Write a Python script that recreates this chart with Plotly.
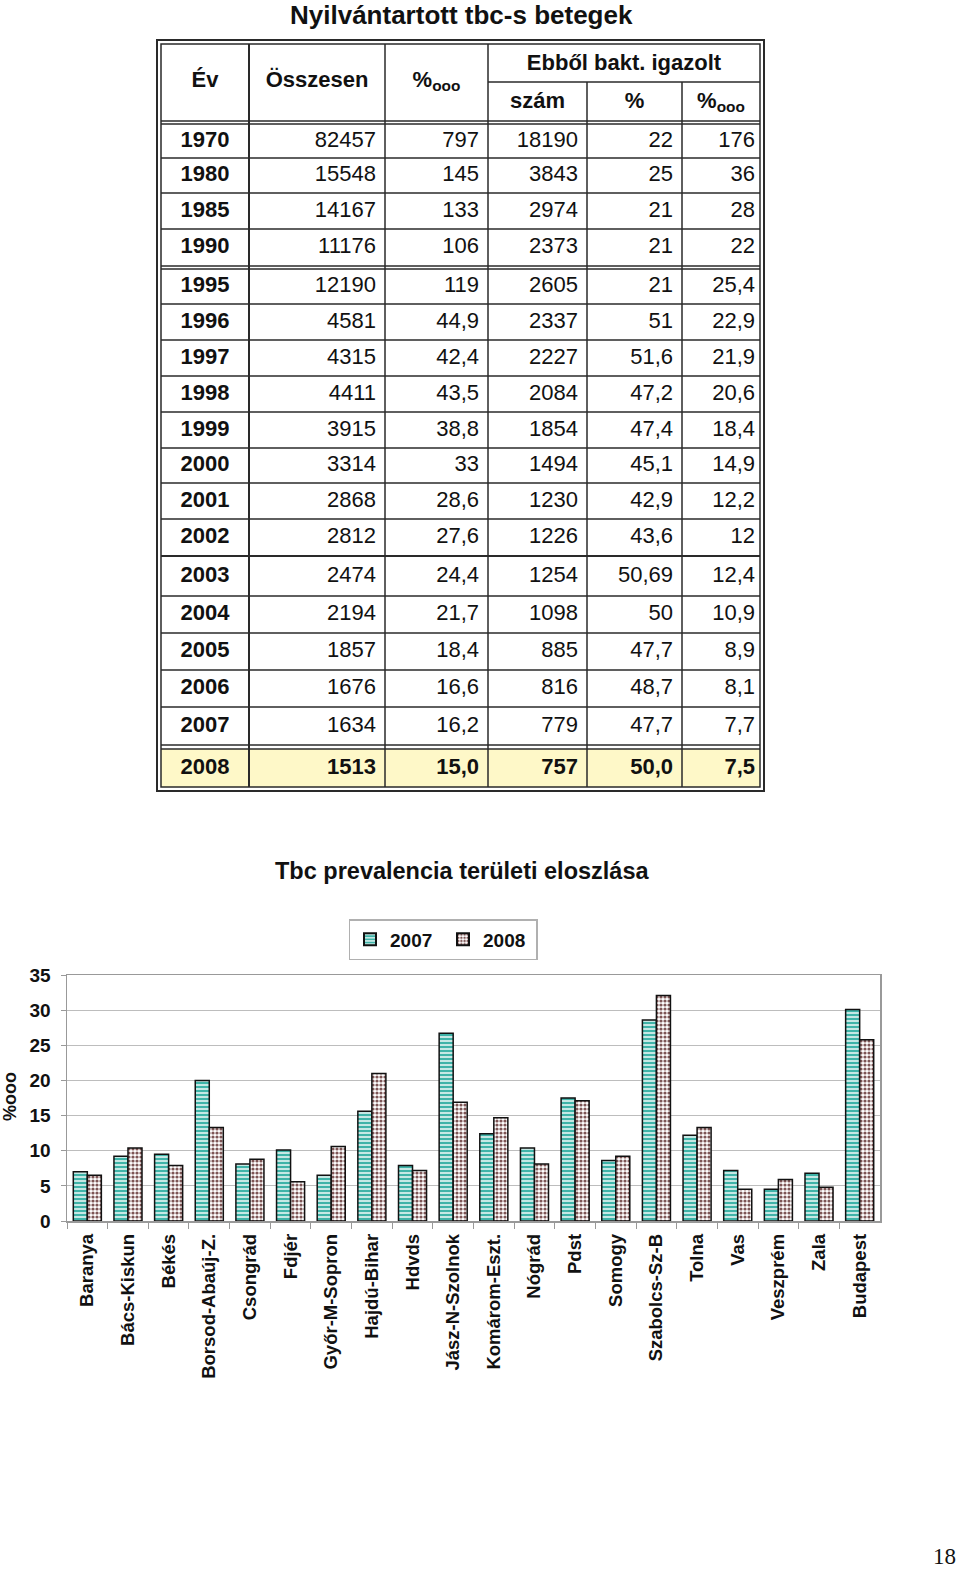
import plotly.graph_objects as go

# ---------------- data: table ----------------
years = [1970, 1980, 1985, 1990, 1995, 1996, 1997, 1998, 1999, 2000,
         2001, 2002, 2003, 2004, 2005, 2006, 2007, 2008]
osszesen = [82457, 15548, 14167, 11176, 12190, 4581, 4315, 4411, 3915, 3314,
            2868, 2812, 2474, 2194, 1857, 1676, 1634, 1513]
osszesen_rate = [797, 145, 133, 106, 119, 44.9, 42.4, 43.5, 38.8, 33,
                 28.6, 27.6, 24.4, 21.7, 18.4, 16.6, 16.2, 15.0]
bakt_szam = [18190, 3843, 2974, 2373, 2605, 2337, 2227, 2084, 1854, 1494,
             1230, 1226, 1254, 1098, 885, 816, 779, 757]
bakt_pct = [22, 25, 21, 21, 21, 51, 51.6, 47.2, 47.4, 45.1,
            42.9, 43.6, 50.69, 50, 47.7, 48.7, 47.7, 50.0]
bakt_rate = [176, 36, 28, 22, 25.4, 22.9, 21.9, 20.6, 18.4, 14.9,
             12.2, 12, 12.4, 10.9, 8.9, 8.1, 7.7, 7.5]
header_top = ["Év", "Összesen", "%<sub>ooo</sub>"]
header_group = "Ebből bakt. igazolt"
header_sub = ["szám", "%", "%<sub>ooo</sub>"]

# ---------------- data: bar chart ----------------
regions = ["Baranya", "Bács-Kiskun", "Békés", "Borsod-Abaúj-Z.", "Csongrád", "Fdjér",
           "Győr-M-Sopron", "Hajdú-Bihar", "Hdvds", "Jász-N-Szolnok", "Komárom-Eszt.",
           "Nógrád", "Pdst", "Somogy", "Szabolcs-Sz-B", "Tolna", "Vas", "Veszprém",
           "Zala", "Budapest"]
prev_2007 = [7.0, 9.2, 9.5, 20.0, 8.1, 10.1, 6.5, 15.6, 7.9, 26.7, 12.4,
             10.4, 17.5, 8.6, 28.6, 12.2, 7.2, 4.5, 6.8, 30.1]
prev_2008 = [6.5, 10.4, 7.9, 13.3, 8.8, 5.6, 10.6, 21.0, 7.2, 16.9, 14.7,
             8.1, 17.1, 9.2, 32.1, 13.3, 4.5, 5.9, 4.8, 25.8]
series_names = ["2007", "2008"]

W, H = 960, 1569
FONT = "Liberation Sans, Arial, sans-serif"


def fmt(v):
    return str(v).replace(".", ",")


def px_x(v):
    return v / W


def px_y(v):
    return (H - v) / H


fig = go.Figure()

# ---------------- bar chart ----------------
fig.add_trace(go.Bar(
    x=regions, y=prev_2007, name=series_names[0],
    marker=dict(color="#3FB3A8", line=dict(color="#111111", width=1.5),
                pattern=dict(shape="-", fgcolor="#FFFFFF", bgcolor="#3FB3A8",
                             size=4, solidity=0.35, fillmode="replace")),
    xaxis="x", yaxis="y", hoverinfo="skip"))
fig.add_trace(go.Bar(
    x=regions, y=prev_2008, name=series_names[1],
    marker=dict(color="#FFFFFF", line=dict(color="#111111", width=1.5),
                pattern=dict(shape=".", fgcolor="#7D5555", bgcolor="#FFFFFF",
                             size=4, solidity=0.5, fillmode="replace")),
    xaxis="x", yaxis="y", hoverinfo="skip"))

# ---------------- table (drawn on its own axes, page-pixel units) ----------------
col_edges = [161, 249, 385, 488, 587, 682, 760]
col_pad = [9, 9, 9, 9, 5]
rows = [(124, 158), (158, 193), (193, 229), (229, 266), (269, 304), (304, 340),
        (340, 376), (376, 412), (412, 448), (448, 483), (483, 519), (519, 556),
        (556, 596), (596, 633), (633, 670), (670, 707), (707, 745), (749, 787)]
row_centers = [(a + b) / 2 for a, b in rows]
last = len(years) - 1

shapes = []
line_c = "#2a2a2a"
shapes.append(dict(type="rect", xref="x2", yref="y2", x0=col_edges[0], x1=col_edges[-1],
                   y0=rows[last][0], y1=rows[last][1], fillcolor="#FEF8C8",
                   line=dict(width=0), layer="below"))
shapes.append(dict(type="rect", xref="x2", yref="y2", x0=157, x1=764, y0=40, y1=791,
                   line=dict(color=line_c, width=2)))
shapes.append(dict(type="rect", xref="x2", yref="y2", x0=col_edges[0], x1=col_edges[-1],
                   y0=44, y1=787, line=dict(color=line_c, width=1.5)))
shapes.append(dict(type="line", xref="x2", yref="y2", x0=col_edges[3], x1=col_edges[-1],
                   y0=82, y1=82, line=dict(color=line_c, width=1.5)))
shapes.append(dict(type="line", xref="x2", yref="y2", x0=col_edges[0], x1=col_edges[-1],
                   y0=121, y1=121, line=dict(color=line_c, width=1.5)))
ys = sorted(set([r[0] for r in rows] + [r[1] for r in rows[:-1]]))
for yv in ys:
    shapes.append(dict(type="line", xref="x2", yref="y2", x0=col_edges[0], x1=col_edges[-1],
                       y0=yv, y1=yv,
                       line=dict(color=line_c, width=2.2 if yv == 556 else 1.5)))
for j, xv in enumerate(col_edges[1:-1], start=1):
    y_start = 82 if j >= 4 else 44
    shapes.append(dict(type="line", xref="x2", yref="y2", x0=xv, x1=xv,
                       y0=y_start, y1=787,
                       line=dict(color=line_c, width=2 if j == 1 else 1.5)))

TS = 22
hdr_font = dict(family=FONT, size=TS, color="#111111", weight="bold")
fig.add_trace(go.Scatter(
    x=[(col_edges[j] + col_edges[j + 1]) / 2 for j in range(3)],
    y=[81] * 3, text=header_top, mode="text", textfont=hdr_font,
    textposition="middle center", xaxis="x2", yaxis="y2",
    showlegend=False, hoverinfo="skip"))
fig.add_trace(go.Scatter(
    x=[(col_edges[3] + col_edges[6]) / 2], y=[64], text=[header_group], mode="text",
    textfont=hdr_font, textposition="middle center", xaxis="x2", yaxis="y2",
    showlegend=False, hoverinfo="skip"))
fig.add_trace(go.Scatter(
    x=[(col_edges[j] + col_edges[j + 1]) / 2 for j in range(3, 6)],
    y=[102] * 3, text=header_sub, mode="text", textfont=hdr_font,
    textposition="middle center", xaxis="x2", yaxis="y2",
    showlegend=False, hoverinfo="skip"))

fig.add_trace(go.Scatter(
    x=[(col_edges[0] + col_edges[1]) / 2] * len(years), y=row_centers,
    text=[f"<b>{y}</b>" for y in years], mode="text",
    textfont=dict(family=FONT, size=TS, color="#111111"),
    textposition="middle center", xaxis="x2", yaxis="y2",
    showlegend=False, hoverinfo="skip"))

for j, col in enumerate([osszesen, osszesen_rate, bakt_szam, bakt_pct, bakt_rate], start=1):
    txt = [(f"<b>{fmt(v)}</b>" if i == last else fmt(v)) for i, v in enumerate(col)]
    fig.add_trace(go.Scatter(
        x=[col_edges[j + 1] - col_pad[j - 1]] * len(col), y=row_centers, text=txt,
        mode="text", textfont=dict(family=FONT, size=TS, color="#111111"),
        textposition="middle left", xaxis="x2", yaxis="y2",
        showlegend=False, hoverinfo="skip"))

annotations = [
    dict(text="<b>Nyilvántartott tbc-s betegek</b>", x=px_x(461), y=px_y(15),
         xref="paper", yref="paper", showarrow=False, xanchor="center", yanchor="middle",
         font=dict(family=FONT, size=26, color="#111111")),
    dict(text="<b>Tbc prevalencia területi eloszlása</b>", x=px_x(462), y=px_y(871),
         xref="paper", yref="paper", showarrow=False, xanchor="center", yanchor="middle",
         font=dict(family=FONT, size=23.5, color="#111111")),
    dict(text="<b>%ooo</b>", x=px_x(10), y=px_y(1097), xref="paper", yref="paper",
         showarrow=False, textangle=-90, xanchor="center", yanchor="middle",
         font=dict(family=FONT, size=18, color="#111111")),
    dict(text="18", x=px_x(944), y=px_y(1556), xref="paper", yref="paper",
         showarrow=False, xanchor="center", yanchor="middle",
         font=dict(family="Liberation Serif, Times New Roman, serif",
                   size=23, color="#111111")),
]

fig.update_layout(
    width=W, height=H,
    margin=dict(l=0, r=0, t=0, b=0, autoexpand=False),
    paper_bgcolor="white", plot_bgcolor="white",
    barmode="group", bargap=0.31, bargroupgap=0,
    shapes=shapes, annotations=annotations,
    showlegend=True,
    legend=dict(orientation="h", x=px_x(443), y=px_y(919), xanchor="center",
                yanchor="top", bordercolor="#B0B0B0", borderwidth=1.5,
                bgcolor="white",
                font=dict(family=FONT, size=19, color="#111111", weight="bold"),
                itemsizing="constant", entrywidth=48, itemwidth=30),
    xaxis=dict(domain=[px_x(67), px_x(880)], anchor="y", type="category",
               showline=True, linecolor="#999999", linewidth=1.5, mirror=True,
               ticks="outside", tickson="boundaries", ticklen=6, tickcolor="#999999",
               tickangle=-90, ticklabelstandoff=4,
               tickfont=dict(family=FONT, size=18.5, color="#111111", weight="bold"),
               showgrid=False, fixedrange=True),
    yaxis=dict(domain=[px_y(1221), px_y(975)], anchor="x", range=[0, 35], dtick=5,
               showline=True, linecolor="#999999", linewidth=1.5, mirror=True,
               ticks="outside", ticklen=5, tickcolor="#999999", ticklabelstandoff=6,
               showgrid=True, gridcolor="#BDBDBD", gridwidth=1.2,
               tickfont=dict(family=FONT, size=19, color="#111111", weight="bold"),
               zeroline=False, fixedrange=True),
    xaxis2=dict(domain=[0, 1], anchor="y2", range=[0, W], visible=False,
                fixedrange=True),
    yaxis2=dict(domain=[px_y(800), 1], anchor="x2", range=[800, 0], visible=False,
                fixedrange=True),
)

fig.write_html(
    "out.html",
    config={"displayModeBar": False, "staticPlot": True},
    post_script="document.body.style.margin='0px';document.body.style.padding='0px';"
                "document.documentElement.style.overflow='hidden';",
)
